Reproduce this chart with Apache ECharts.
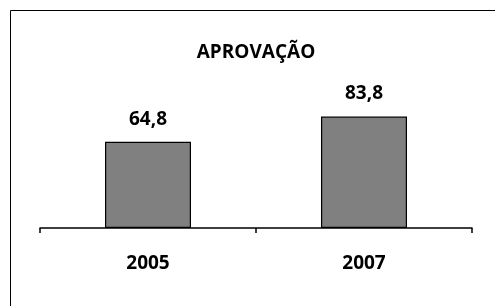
<!DOCTYPE html>
<html>
<head>
<meta charset="utf-8">
<script src="https://cdn.jsdelivr.net/npm/echarts@6/dist/echarts.min.js"></script>
<style>html,body{margin:0;padding:0;background:#fff;}#c{width:495px;height:306px;}</style>
</head>
<body>
<div id="c"></div>
<script>
const titleText = 'APROVAÇÃO';
const categories = ['2005', '2007'];
const values = [64.8, 83.8];

const FONT = '"Open Sans"';
const chart = echarts.init(document.getElementById('c'), null, {renderer: 'canvas'});
chart.setOption({
  animation: false,
  backgroundColor: '#fff',
  title: {
    text: titleText, left: 251, textAlign: 'center', top: 38,
    textStyle: {fontFamily: FONT, fontWeight: 'bold', fontSize: 19, color: '#000'}
  },
  graphic: [{
    type: 'rect', shape: {x: 10.5, y: 10.5, width: 500, height: 400},
    style: {fill: 'none', stroke: '#000', lineWidth: 1}, silent: true
  }],
  grid: {left: 40, right: 23, top: 95, bottom: 78},
  xAxis: {
    type: 'category', data: categories,
    axisLine: {lineStyle: {color: '#000', width: 1.5}},
    axisTick: {show: true, length: 5, lineStyle: {color: '#000', width: 1.5}},
    axisLabel: {margin: 26, fontFamily: FONT, fontWeight: 'bold', fontSize: 19, color: '#000'}
  },
  yAxis: {
    type: 'value', min: 0, max: 100, show: false,
    splitLine: {show: false}
  },
  series: [{
    type: 'bar', data: values, barWidth: 86,
    itemStyle: {color: '#808080', borderColor: '#000', borderWidth: 1.2},
    label: {
      show: true, position: 'top', distance: 13,
      fontFamily: FONT, fontWeight: 'bold', fontSize: 19, color: '#000',
      formatter: p => String(p.value).replace('.', ',')
    }
  }]
});
</script>
</body>
</html>
